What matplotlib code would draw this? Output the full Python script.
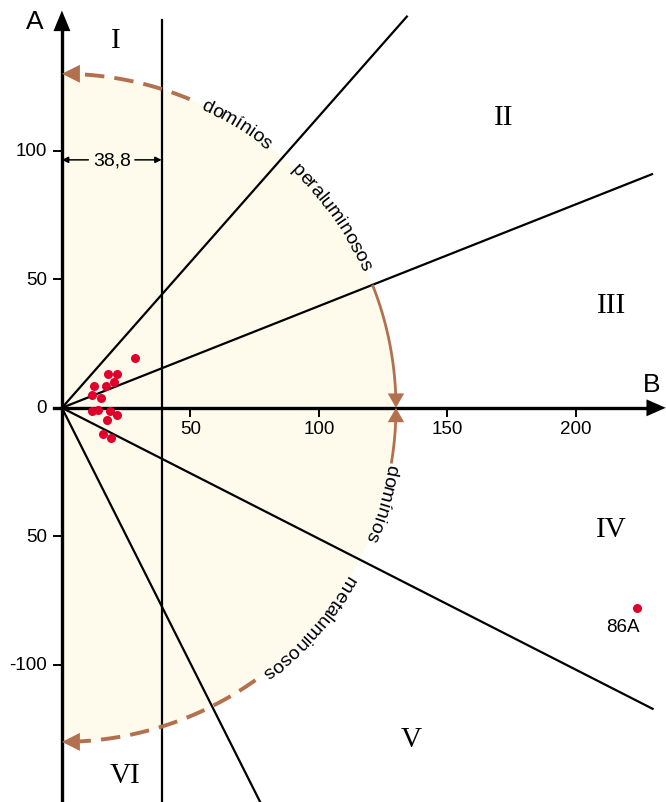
import numpy as np
import matplotlib.pyplot as plt
from matplotlib.patches import Wedge, Polygon

plt.rcParams['font.family'] = ['Liberation Sans', 'DejaVu Sans']

# sample compositions: B (x) and A (y) parameters
b_vals = [28.4, 18.0, 21.3, 20.2, 17.0, 12.5, 11.6, 15.2, 14.1, 11.6, 18.7, 21.5, 17.6, 15.8, 19.1]
a_vals = [19.5, 13.2, 13.2, 10.0, 8.4, 8.3, 5.1, 3.9, -0.7, -1.4, -1.4, -2.7, -4.9, -10.1, -11.8]
outlier_b, outlier_a, outlier_name = 224.0, -78.0, '86A'

# domain boundaries through the origin (degrees) and the B = 38.8 limit
boundary_angles = [48.6, 21.6, -27.0, -63.3]
b_limit = 38.8
radius = 130

xticks = [50, 100, 150, 200]
yticks = [100, 50, 0, -50, -100]
ytick_labels = ['100', '50', '0', '50', '-100']
domains = ['I', 'II', 'III', 'IV', 'V', 'VI']

BROWN = '#b3704f'
RED = '#e0002b'

fig = plt.figure(figsize=(6.66, 8.03), dpi=100)
ax = fig.add_axes([0, 0, 1, 1])
ax.set_xlim(-24.1, 235.1)
ax.set_ylim(-153.4, 159.1)
ax.axis('off')

# shaded half disc
ax.add_patch(Wedge((0, 0), radius, -90, 90, facecolor='#fefbec', edgecolor='none', zorder=0))


def arrow_head(tip, direction, length, width, color, z=5):
    d = np.asarray(direction, float)
    d /= np.hypot(*d)
    n = np.array([-d[1], d[0]])
    tip = np.asarray(tip, float)
    base = tip - length * d
    ax.add_patch(Polygon([tip, base + width / 2 * n, base - width / 2 * n],
                         closed=True, facecolor=color, edgecolor='none', zorder=z))


def arc(t0, t1, **kw):
    t = np.radians(np.linspace(t0, t1, 100))
    ax.plot(radius * np.cos(t), radius * np.sin(t), color=BROWN, solid_capstyle='butt',
            dash_capstyle='butt', zorder=4, **kw)


def arc_text(text, theta_mid, r=131, size=14):
    # lay the letters out clockwise along the circle, using prefix widths for spacing
    renderer = fig.canvas.get_renderer()
    ppu = ax.transData.transform((1, 0))[0] - ax.transData.transform((0, 0))[0]

    def width(s):
        if not s:
            return 0.0
        t = ax.text(0, 0, 'l' + s + 'l', fontsize=size)
        w = t.get_window_extent(renderer).width
        t.set_text('ll')
        w -= t.get_window_extent(renderer).width
        t.remove()
        return w / ppu

    edges = [width(text[:i]) for i in range(len(text) + 1)]
    start = np.radians(theta_mid) + edges[-1] / (2 * r)
    for i, ch in enumerate(text):
        a = start - (edges[i] + edges[i + 1]) / (2 * r)
        ax.text(r * np.cos(a), r * np.sin(a), ch, rotation=np.degrees(a) - 90,
                rotation_mode='anchor', ha='center', va='center_baseline',
                fontsize=size, zorder=6)


# boundary lines
for ang, length in zip(boundary_angles, [203, 247, 258, 200]):
    a = np.radians(ang)
    ax.plot([0, length * np.cos(a)], [0, length * np.sin(a)], color='black', lw=1.6, zorder=3)
ax.plot([b_limit, b_limit], [-153.4, 151], color='black', lw=1.6, zorder=3)

# axes with arrows
ax.plot([0, 0], [-153.4, 148], color='black', lw=2.4, zorder=5)
arrow_head((0, 154.6), (0, 1), 8, 6.6, 'black')
ax.plot([-3.2, 228], [0, 0], color='black', lw=2.4, zorder=5)
arrow_head((235, 0), (1, 0), 7.5, 6.6, 'black')
ax.text(-10.5, 150.6, 'A', fontsize=19, ha='center', va='center')
ax.text(229.5, 9.3, 'B', fontsize=19, ha='center', va='center')

for x in xticks:
    ax.plot([x, x], [0, -3.2], color='black', lw=1.4, zorder=5)
    ax.text(x, -8.2, str(x), fontsize=13.5, ha='center', va='center')
for y, lab in zip(yticks, ytick_labels):
    ax.plot([-3.2, 0], [y, y], color='black', lw=1.4, zorder=5)
    ax.text(-5.8, y, lab, fontsize=13.5, ha='right', va='center')

# 38,8 dimension
ax.text(b_limit / 2, 96.5, '38,8', fontsize=14, ha='center', va='center')
for x0, x1 in [(10.3, 0), (28.4, b_limit)]:
    ax.annotate('', xy=(x1, 96.5), xytext=(x0, 96.5),
                arrowprops=dict(arrowstyle='-|>', color='black', lw=1.1,
                                mutation_scale=9, shrinkA=0, shrinkB=0))

# domain arcs
arc(67.5, 87, lw=2.8, dashes=(5, 2.6))
arrow_head((0, radius), (-1, 0), 7, 7, BROWN)
arc(21.6, 2.2, lw=2)
arrow_head((radius, 0), (0, -1), 5.6, 6.4, BROWN)
arc(-9.6, -2.2, lw=2)
arrow_head((radius, 0), (0, 1), 5.6, 6.4, BROWN)
arc(-54.6, -87, lw=2.8, dashes=(5, 2.6))
arrow_head((0, -radius), (-1, 0), 7, 7, BROWN)

arc_text('domínios', 58.5)
arc_text('peraluminosos', 35.4)
arc_text('domínios', -16.5)
arc_text('metaluminosos', -41.5)

# domain numerals
for lab, (x, y) in zip(domains, [(21, 143), (172, 113), (214, 40), (214, -47), (136, -129), (24.5, -143)]):
    ax.text(x, y, lab, fontsize=21, family='Liberation Serif', ha='center', va='center')

# samples
ax.plot(b_vals, a_vals, 'o', color=RED, ms=6.5, mec='none', zorder=7)
ax.plot(outlier_b, outlier_a, 'o', color=RED, ms=6.5, mec='none', zorder=7)
ax.text(outlier_b - 5.7, outlier_a - 7.2, outlier_name, fontsize=13.5, ha='center', va='center')

fig.savefig('out.png', dpi=100)
